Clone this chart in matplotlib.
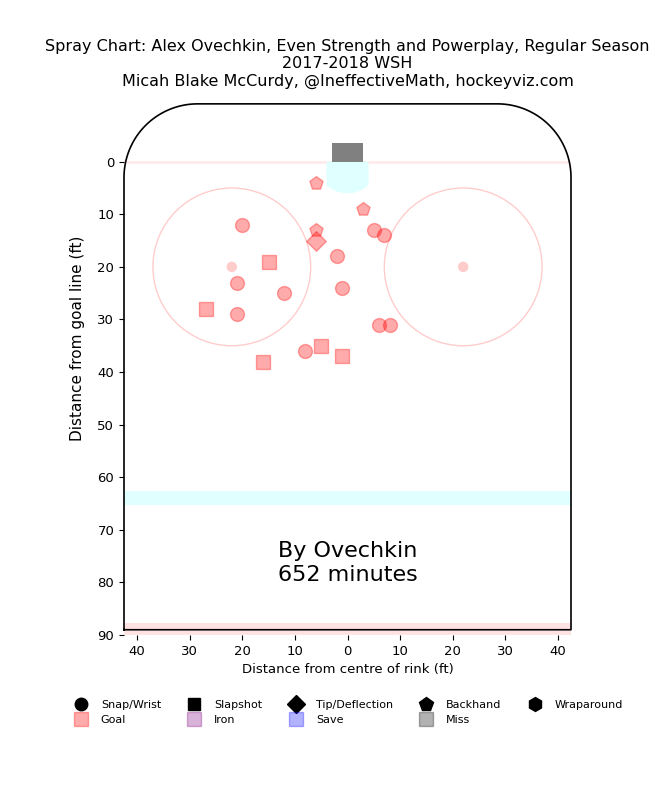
import numpy as np
import matplotlib
matplotlib.use("Agg")
import matplotlib.pyplot as plt
from matplotlib.patches import Circle, Rectangle, Polygon
from matplotlib.lines import Line2D

# ---- data (feet; x = distance from centre, y = distance from goal line) ----
snap_x = [-20, 5, 7, -2, -21, -12, -1, -21, 6, 8, -8]
snap_y = [12, 13, 14, 18, 23, 25, 24, 29, 31, 31, 36]
slap_x = [-15, -27, -5, -1, -16]
slap_y = [19, 28, 35, 37, 38]
tip_x = [-6]
tip_y = [15]
back_x = [-6, 3, -6]
back_y = [4, 9, 13]

title = ("Spray Chart: Alex Ovechkin, Even Strength and Powerplay, Regular Season\n"
         "2017-2018 WSH\nMicah Blake McCurdy, @IneffectiveMath, hockeyviz.com")
annot = "By Ovechkin\n652 minutes"
xticks = [-40, -30, -20, -10, 0, 10, 20, 30, 40]
yticks = [0, 10, 20, 30, 40, 50, 60, 70, 80, 90]

W, H = 663, 785
fig = plt.figure(figsize=(W / 100, H / 100), dpi=100)
ax_l, ax_r, ax_b, ax_t = 124, 571, 635, 98.6
ax = fig.add_axes([ax_l / W, 1 - ax_b / H, (ax_r - ax_l) / W, (ax_b - ax_t) / H])
ax.set_xlim(-42.5, 42.5)
ax.set_ylim(90, -12)
ax.set_aspect("equal", adjustable="box")
for s in ax.spines.values():
    s.set_visible(False)

goal_col = (1, 0, 0, 0.33)

# rink features
ax.axhspan(62.7, 65.2, color="#e0ffff", lw=0, zorder=0)
ax.axhspan(87.7, 90.5, color=(1, 0, 0, 0.11), lw=0, zorder=0)
ax.plot([-42.5, 42.5], [0, 0], color=(1, 0, 0, 0.08), lw=2, zorder=0)
# crease
cx = np.linspace(-4, 4, 60)
cy = np.sqrt(36 - cx ** 2)
crease = Polygon(np.column_stack([np.r_[-4, cx, 4], np.r_[0, cy, 0]]),
                 closed=True, color="#e0ffff", lw=0, zorder=0)
ax.add_patch(crease)
ax.add_patch(Rectangle((-3, -3.6), 6, 3.6, color="#808080", lw=0, zorder=1))
for fx in (-22, 22):
    ax.add_patch(Circle((fx, 20), 15, fill=False, ec=(1, 0, 0, 0.2), lw=1, zorder=0))
    ax.add_patch(Circle((fx, 20), 1, color=(1, 0, 0, 0.2), lw=0, zorder=0))

# boards outline
R = 14
t1 = np.linspace(np.pi, 1.5 * np.pi, 40)
t2 = np.linspace(1.5 * np.pi, 2 * np.pi, 40)
bx = np.r_[-42.5, -42.5 + R + R * np.cos(t1), 42.5 - R + R * np.cos(t2), 42.5, -42.5]
by = np.r_[89, -11 + R + R * np.sin(t1), -11 + R + R * np.sin(t2), 89, 89]
ax.plot(bx, by, color="black", lw=1.2, zorder=2, clip_on=False)

# shots
kw = dict(s=100, color=goal_col, zorder=3)
ax.scatter(snap_x, snap_y, marker="o", **kw)
ax.scatter(slap_x, slap_y, marker="s", **kw)
ax.scatter(tip_x, tip_y, marker="D", **kw)
ax.scatter(back_x, back_y, marker="p", **kw)

ax.text(0, 76.3, annot, ha="center", va="center", fontsize=16)

ax.set_xticks(xticks)
ax.set_xticklabels([str(abs(v)) for v in xticks])
ax.set_yticks(yticks)
ax.tick_params(labelsize=9.5)
ax.set_xlabel("Distance from centre of rink (ft)", fontsize=9.5)
ax.set_ylabel("Distance from goal line (ft)", fontsize=11)
ax.yaxis.set_label_coords(-0.087, 0.554)

fig.text(347.5 / W, 1 - 39.5 / H, title, ha="center", va="top", fontsize=11.5,
         linespacing=1.16)

handles = [
    Line2D([], [], ls="", marker="o", color="black", ms=9),
    Line2D([], [], ls="", marker="s", color=goal_col, ms=10),
    Line2D([], [], ls="", marker="s", color="black", ms=9),
    Line2D([], [], ls="", marker="s", color=(0.5, 0, 0.5, 0.3), ms=10),
    Line2D([], [], ls="", marker="D", color="black", ms=9),
    Line2D([], [], ls="", marker="s", color=(0, 0, 1, 0.3), ms=10),
    Line2D([], [], ls="", marker="p", color="black", ms=10),
    Line2D([], [], ls="", marker="s", color=(0, 0, 0, 0.3), ms=10),
    Line2D([], [], ls="", marker="h", color="black", ms=10),
]
labels = ["Snap/Wrist", "Goal", "Slapshot", "Iron", "Tip/Deflection", "Save",
          "Backhand", "Miss", "Wraparound"]
fig.legend(handles, labels, ncol=5, frameon=False, fontsize=8, loc="center",
           bbox_to_anchor=(346.5 / W, 1 - 712.5 / H))

fig.savefig("out.png", dpi=100)
